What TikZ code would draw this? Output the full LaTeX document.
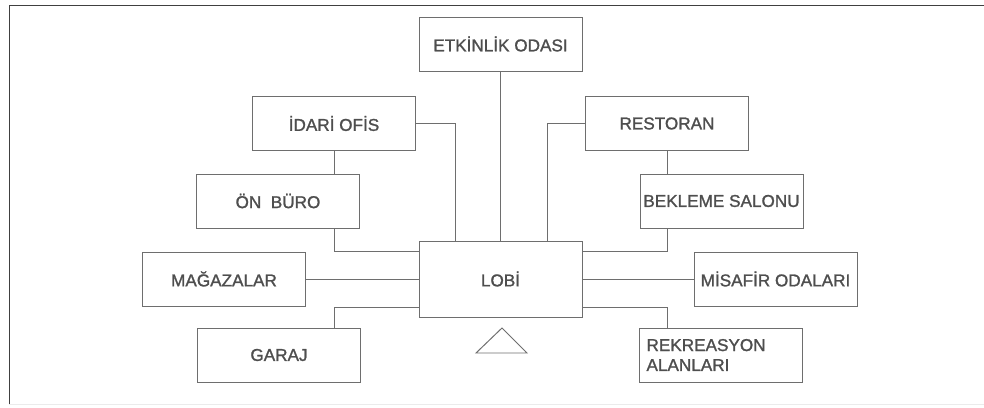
\documentclass[tikz,border=0pt]{standalone}
\usepackage{fontspec}
\setmainfont{Liberation Sans}
\newfontfamily\odafont[FakeBold=1.3]{Liberation Sans}
\usepackage{xcolor}
\usetikzlibrary{positioning}
\definecolor{cizgi}{HTML}{6E6E6E}
\definecolor{yazi}{HTML}{4E4E4E}
\tikzset{
  oda/.style={draw=cizgi,line width=0.7pt,minimum width=40.75mm,minimum height=13.5mm,inner sep=0,text=yazi,font=\odafont\fontsize{12.2}{14.2}\selectfont},
  hat/.style={draw=cizgi,line width=0.7pt},
}
\begin{document}
\begin{tikzpicture}[x=0.25mm,y=-0.25mm]
  \useasboundingbox (0,0) rectangle (984,407);
  \draw[black!75,line width=0.7pt] (9,404) -- (9,5) -- (984,5);
  \draw[black!8] (9,404) -- (984,404);
  % odalar
  \node[oda](etkinlik) at (500.5,44) {ETKİNLİK ODASI};
  \node[oda](ofis) at (334,123.5) {İDARİ OFİS};
  \node[oda](onburo) at (278,201) {ÖN\ \ BÜRO};
  \node[oda](restoran) at (667,123.5) {RESTORAN};
  \node[oda](bekleme) at (721.5,201) {BEKLEME SALONU};
  \node[oda,minimum height=19mm](lobi) at (500.5,279) {LOBİ};
  \node[oda](magaza) at (224,279) {MAĞAZALAR};
  \node[oda](misafir) at (775.5,279) {MİSAFİR ODALARI};
  \node[oda](garaj) at (279,355) {GARAJ};
  \node[oda,align=left,text width=37.25mm,inner xsep=1.75mm](rekreasyon) at (721,355) {REKREASYON\\ALANLARI};
  % lobi kenarindaki baglanti uclari
  \coordinate(ofisUc) at (455,241);
  \coordinate(restoranUc) at (547,241);
  \coordinate(onburoUc) at (419,251);
  \coordinate(garajUc) at (419,307);
  \coordinate(beklemeUc) at (582,251);
  \coordinate(rekreasyonUc) at (582,307);
  \foreach \oda in {etkinlik,magaza,misafir}
    \draw[hat] (\oda) -- (lobi);
  \draw[hat] (ofis.east) -| (ofisUc);
  \draw[hat] (restoran.west) -| (restoranUc);
  \draw[hat] (ofis.south) -- (ofis.south |- onburo.north);
  \draw[hat] (ofis.south |- onburo.south) |- (onburoUc);
  \draw[hat] (ofis.south |- garaj.north) |- (garajUc);
  \draw[hat] (restoran.south) -- (restoran.south |- bekleme.north);
  \draw[hat] (restoran.south |- bekleme.south) |- (beklemeUc);
  \draw[hat] (restoran.south |- rekreasyon.north) |- (rekreasyonUc);
  \draw[hat] (476,353) -- (502,328) -- (527,353) -- cycle;
\end{tikzpicture}
\end{document}
